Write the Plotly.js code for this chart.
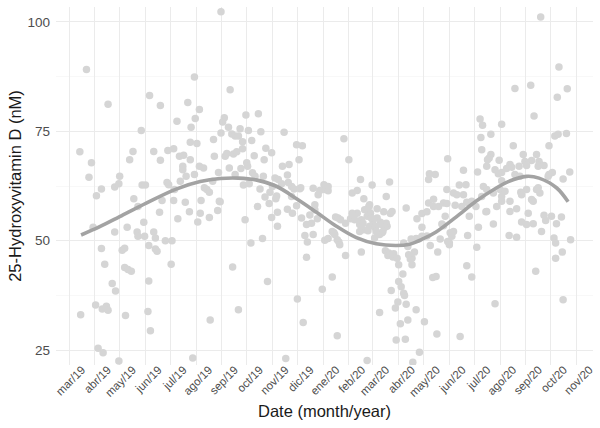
<!DOCTYPE html>
<html>
<head>
<meta charset="utf-8">
<script src="https://cdn.plot.ly/plotly-3.0.1.min.js"></script>
<style>html,body{margin:0;padding:0;background:#fff;}#chart{width:600px;height:428px;}</style>
</head>
<body>
<div id="chart"></div>
<script>
// Days since 1 March 2019 for each participant sample
const sampleDay = [
  21,47,97,110,87,143,151,157,147,152, 13,27,24,33,39,55,60,61,73,77, 88,92,102,110,119,126,133,138,137,137, 146,146,154,151,141,134,118,120,157,
  29,14,55,70,39,43,52,56,32,40, 45,47,35,41,60,68,64,67,67,71, 75,78,83,82,83,90,91,96,102,104, 104,106,96,95,98,109,112,116,124,123, 126,131,140,145,155,149,
  130,127,163,173,159,181,
  183,194,187,185,213,228,192,183,196,200, 204,206,216,231,259,174,209,220,274,281, 331,175,188,190,198,202,209,223,237,244, 235,277,337,162,193,214,215,207,200,221, 180,257,265,224,234,248,252,263,264,256, 268,278,294,307,312,308,302,312,351,365, 386,341,347,355,382,300,166,169,210,230, 245,242,250,236,268,
  217,271,249,292,279,
  179,169,182,158,212,227,241,244,251,251, 263,269,274,280,286,284,287,286,294,290, 296,299,296,219,233,197,239,204,170,275, 282,261,305,317,323,308,312,317,319,321, 324,327,323,325,333,333,339,343,347,352, 355,359,361,363,366,369,371,375,377,379, 383,387,389,381,385,391,397,397,388,393, 374,359,394,
  362,360,356,371,341,344,352,364,350,354, 376,382,380,362,360,369,370,374,378,350, 320,326,368,384,390,395,413,408,418,
  400,403,396,406,399,405,
  406,433,439,445,451,455,465,473,479,485, 490,503,515,531,539,531,559,553,545,551, 559,569,572,574,581,587,593,584,586,604, 594,586,562,595,513,530,539,511,502,493, 491,480,482,479,485,471,459,458,461,463, 451,449,453,447,435,444,438,442,443,428, 418,408,422,414,404,402,416,411,413,409, 403,412,419,425,431,425,421,425,431,
  568,590,537,556,600,588,560,495,498,521, 496,508,497,535,585,589,599,578,456,508, 506,504,518,547,563,549,557,566,567,572, 531,542,551,565,503,513,527,517,521,537, 492,475,578,582,603,595,434,441,433,470, 478,455,463,467,475,499,503,519,525,511, 544,551,563,567,439,497,521,
  543,577,545,565,557,533,456,458,521,521
];
// 25-Hydroxyvitamin D concentration (nM) for each sample
const vitaminD = [
  89.1,81.2,83.2,80.9,75.2,81.6,87.4,80.0,75.9,77.9, 70.3,67.8,64.5,60.3,61.8,62.3,63.0,64.7,68.5,70.4, 62.7,62.7,70.4,68.4,70.6,71.0,69.3,69.5,67.0,66.2, 68.5,72.5,72.2,65.1,64.7,63.6,63.3,62.8,67.0,
  53.1,33.1,52.0,53.1,48.2,44.6,40.2,38.5,35.3,34.4, 35.0,34.1,25.4,24.4,22.5,32.9,47.8,48.3,43.9,43.4, 43.0,59.6,57.8,52.0,51.0,54.2,51.0,48.9,52.0,50.6, 48.1,47.6,40.8,33.8,29.4,56.5,59.2,50.0,50.0,44.6, 59.2,55.0,58.8,56.6,54.3,23.2,
  77.3,61.7,62.1,63.6,59.2,59.0,
  102.3,84.5,78.1,77.1,78.7,79.0,75.9,74.6,74.4,73.9, 73.9,75.6,75.2,74.9,74.8,73.1,72.6,72.9,71.9,71.7, 73.3,69.3,69.3,69.9,69.8,70.3,71.0,69.4,71.1,70.1, 68.5,68.5,68.5,66.6,66.6,67.8,67.0,66.5,65.1,65.5, 65.6,67.0,67.4,64.7,64.7,64.3,64.0,65.0,63.3,63.0, 62.4,61.9,62.0,62.8,62.4,61.7,61.5,61.4,64.0,62.7, 63.4,60.9,61.5,59.6,60.1,60.5,61.7,61.1,62.7,61.8, 62.4,61.1,60.2,60.0,60.1,
  63.0,61.8,59.6,54.0,62.1,
  56.9,55.3,58.9,56.3,54.8,57.8,58.5,55.3,56.5,53.3, 57.2,56.3,58.0,55.2,53.7,51.2,49.7,46.2,51.4,55.9, 58.2,55.0,57.1,49.5,50.5,44.0,40.7,34.2,31.9,36.7, 31.3,23.1,38.9,41.7,28.3,50.1,50.5,52.1,51.8,55.4, 55.2,54.8,50.2,49.7,54.0,46.6,55.0,55.9,56.3,47.4, 52.5,55.6,57.8,56.3,54.6,53.3,55.2,54.2,51.8,56.6, 53.3,56.2,56.7,47.7,47.2,47.0,44.5,40.7,38.6,34.6, 33.6,22.6,27.3,
  58.2,57.1,57.1,57.3,56.3,54.8,54.8,55.2,53.7,54.0, 53.7,54.0,53.0,53.3,52.3,52.9,52.1,51.4,52.1,52.1, 51.4,49.1,50.6,46.6,46.3,46.0,46.0,48.7,50.5,
  39.5,38.0,36.0,35.5,31.0,27.5,
  57.5,58.6,57.8,57.8,58.6,58.5,58.1,57.8,58.8,59.0, 57.8,56.7,57.8,56.7,57.3,59.0,59.0,56.3,54.3,53.7, 53.9,52.1,55.8,54.6,55.6,53.9,55.4,50.6,49.5,50.2, 47.4,46.0,43.0,36.5,35.6,51.2,50.8,53.8,56.6,53.1, 48.5,51.2,55.6,44.3,41.7,28.1,51.8,49.5,51.0,52.1, 53.4,53.8,55.6,50.4,48.9,47.4,41.6,41.8,28.7,31.5, 34.2,31.9,24.5,22.2,37.5,42.4,47.4,45.8,44.5,46.8, 49.5,50.4,55.0,56.2,56.6,53.1,50.4,51.0,51.1,
  101.1,89.7,84.8,85.5,84.7,82.8,78.5,77.8,76.4,76.6, 73.6,74.3,70.8,71.7,73.9,74.3,74.5,71.7,68.7,69.7, 68.9,68.5,68.4,69.7,69.7,68.1,68.3,68.1,67.4,67.2, 67.4,67.0,67.2,67.0,67.0,66.2,66.5,65.3,65.6,65.1, 65.7,66.1,65.1,65.6,65.7,64.1,65.3,65.1,64.0,62.7, 62.8,61.7,60.9,60.5,60.5,62.4,61.7,61.7,61.3,60.9, 61.1,61.7,61.7,60.9,59.5,60.1,60.1,
  64.7,64.7,60.5,62.1,59.4,66.8,49.8,49.1,59.0,63.7
];
// Smoothed seasonal trend
const trendDay = [14.5,37,61,93,129,158,182,204,225,249,274,298,322,346,370,394,410,426,442,466,490,515,529,551,566,587,601];
const trendVal = [51.3,53.2,55.5,58.6,61.8,63.5,64.2,64.3,63.9,62.5,59.6,56.5,53.3,50.7,49.3,48.9,49.2,50.4,52.0,55.4,59.0,62.1,63.5,64.7,64.3,62.1,58.9];
// Month ticks (days since 1 March 2019) and labels
const monthDay = [0,31,61,92,122,153,184,214,245,275,306,337,366,397,427,458,488,519,550,580,611];
const monthLabel = ['mar/19','abr/19','may/19','jun/19','jul/19','ago/19','sep/19','oct/19','nov/19','dic/19','ene/20','feb/20','mar/20','abr/20','may/20','jun/20','jul/20','ago/20','sep/20','oct/20','nov/20'];
const yTicks = [25,50,75,100];
const yMinor = [37.5,62.5,87.5];

const font = 'Liberation Sans, Arial, Helvetica, sans-serif';
const xRange = [-15.7, 631];
const yRange = [21.6, 103.4];

const data = [
  {type:'scatter', mode:'markers', x:sampleDay, y:vitaminD, xaxis:'x', yaxis:'y',
   marker:{color:'#d5d5d5', size:7.5, line:{width:0}}, hoverinfo:'skip', showlegend:false},
  {type:'scatter', mode:'lines', x:trendDay, y:trendVal, xaxis:'x', yaxis:'y2',
   line:{color:'#a3a3a3', width:3.6, shape:'spline', smoothing:1}, hoverinfo:'skip', showlegend:false}
];
const layout = {
  width:600, height:428,
  margin:{l:56, r:7, t:7, b:63},
  paper_bgcolor:'#ffffff', plot_bgcolor:'#ffffff',
  font:{family:font, color:'#4d4d4d'},
  showlegend:false,
  xaxis:{
    range:xRange, tickmode:'array', tickvals:monthDay, ticktext:monthLabel,
    tickangle:-45, tickfont:{family:font, size:11.5, color:'#4d4d4d'},
    ticklabelshift:13, ticklabelstandoff:-5,
    showgrid:true, gridcolor:'#ebebeb', gridwidth:1, zeroline:false, showline:false, ticks:'',
    title:{text:'Date (month/year)', font:{family:font, size:16.5, color:'#1a1a1a'}, standoff:7}
  },
  // grid + title axis
  yaxis:{
    range:yRange, tickmode:'array', tickvals:yTicks, showticklabels:false,
    showgrid:true, gridcolor:'#ebebeb', gridwidth:1, zeroline:false, showline:false, ticks:'',
    minor:{tickmode:'array', tickvals:yMinor, showgrid:true, gridcolor:'#f4f4f4', gridwidth:0.6, ticks:''},
    title:{text:'25-Hydroxyvitamin D (nM)', font:{family:font, size:16.5, color:'#1a1a1a'}, standoff:29}
  },
  // tick-label axis (same scale)
  yaxis2:{
    range:yRange, overlaying:'y', anchor:'x', side:'left',
    tickmode:'array', tickvals:yTicks,
    tickfont:{family:font, size:13.5, color:'#4d4d4d'}, ticklabelstandoff:5,
    showgrid:false, zeroline:false, showline:false, ticks:''
  }
};
Plotly.newPlot('chart', data, layout, {staticPlot:true, displayModeBar:false});
</script>
</body>
</html>
